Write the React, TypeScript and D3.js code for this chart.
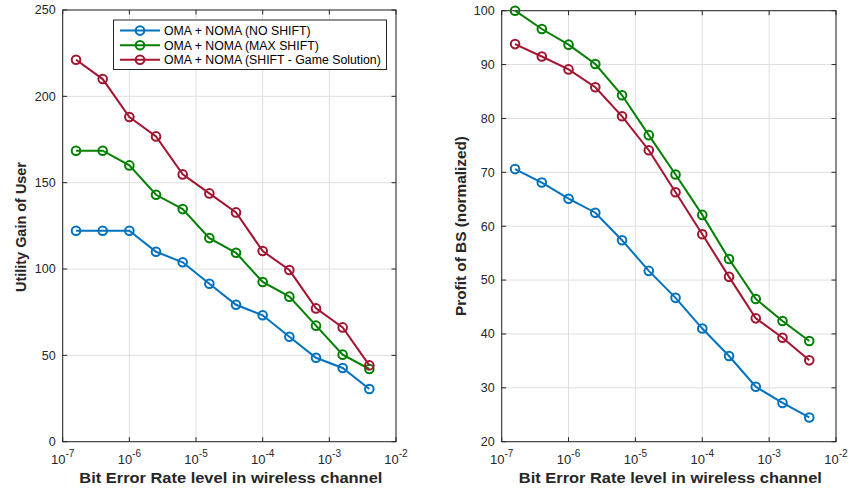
import React from "react";
import * as d3 from "d3";

const berExponents = [-6.8, -6.4, -6.0, -5.6, -5.2, -4.8, -4.4, -4.0, -3.6, -3.2, -2.8, -2.4];
const berLevels = berExponents.map((e) => Math.pow(10, e));
const xTickExps = [-7, -6, -5, -4, -3, -2];

const seriesNames = ["OMA + NOMA (NO SHIFT)", "OMA + NOMA (MAX SHIFT)", "OMA + NOMA (SHIFT - Game Solution)"];
const seriesColors = ["#0072BD", "#008000", "#A2142F"];

const utilityNoShift = [122.2, 122.2, 122.2, 110.0, 103.9, 91.5, 79.3, 73.2, 60.8, 48.6, 42.7, 30.5];
const utilityMaxShift = [168.5, 168.5, 160.0, 143.0, 134.7, 117.9, 109.4, 92.5, 84.0, 67.2, 50.4, 42.1];
const utilityGame = [221.2, 210.0, 188.0, 176.8, 154.8, 143.8, 132.8, 110.4, 99.4, 77.2, 66.2, 44.2];

const profitNoShift = [70.6, 68.1, 65.1, 62.5, 57.4, 51.7, 46.7, 41.0, 35.9, 30.2, 27.2, 24.5];
const profitMaxShift = [100.0, 96.6, 93.7, 90.1, 84.3, 76.9, 69.6, 62.1, 53.9, 46.5, 42.4, 38.7];
const profitGame = [93.8, 91.5, 89.1, 85.8, 80.4, 74.1, 66.3, 58.5, 50.6, 42.9, 39.3, 35.1];

const utilityTicks = [0, 50, 100, 150, 200, 250];
const profitTicks = [20, 30, 40, 50, 60, 70, 80, 90, 100];

const FONT = "'Liberation Sans', Arial, Helvetica, sans-serif";
const AX = "#262626";
const GRID = "#dfdfdf";

type PanelProps = {
  left: number;
  right: number;
  top: number;
  bottom: number;
  yDomain: [number, number];
  yTicks: number[];
  series: number[][];
  yLabel: string;
  yLabelX: number;
  yLabelY: number;
  yLabelLen: number;
  legend?: boolean;
};

function Panel({ left, right, top, bottom, yDomain, yTicks, series, yLabel, yLabelX, yLabelY, yLabelLen, legend }: PanelProps) {
  const x = d3.scaleLog().domain([1e-7, 1e-2]).range([left, right]);
  const y = d3.scaleLinear().domain(yDomain).range([bottom, top]);
  const line = d3
    .line<number>()
    .x((_, i) => x(berLevels[i]))
    .y((d) => y(d));
  const tl = 4.5;
  return (
    <g>
      {xTickExps.map((e) => (
        <line key={"gx" + e} x1={x(Math.pow(10, e))} x2={x(Math.pow(10, e))} y1={top} y2={bottom} stroke={GRID} strokeWidth={1} />
      ))}
      {yTicks.map((t) => (
        <line key={"gy" + t} x1={left} x2={right} y1={y(t)} y2={y(t)} stroke={GRID} strokeWidth={1} />
      ))}
      <rect x={left} y={top} width={right - left} height={bottom - top} fill="none" stroke={AX} strokeWidth={1} />
      {xTickExps.map((e) => {
        const px = x(Math.pow(10, e));
        return (
          <g key={"tx" + e}>
            <line x1={px} x2={px} y1={bottom} y2={bottom - tl} stroke={AX} />
            <line x1={px} x2={px} y1={top} y2={top + tl} stroke={AX} />
            <text x={px} y={463.5} textAnchor="middle" fontFamily={FONT} fontSize={13} fill={AX}>
              10
              <tspan dy={-6.5} fontSize={10}>{String(e)}</tspan>
            </text>
          </g>
        );
      })}
      {yTicks.map((t) => (
        <g key={"ty" + t}>
          <line x1={left} x2={left + tl} y1={y(t)} y2={y(t)} stroke={AX} />
          <line x1={right} x2={right - tl} y1={y(t)} y2={y(t)} stroke={AX} />
          <text x={left - 7} y={y(t) + 4.4} textAnchor="end" fontFamily={FONT} fontSize={12.5} fill={AX}>
            {t}
          </text>
        </g>
      ))}
      {series.map((s, si) => (
        <g key={"s" + si}>
          <path d={line(s) || ""} fill="none" stroke={seriesColors[si]} strokeWidth={2} />
          {s.map((v, i) => (
            <circle key={i} cx={x(berLevels[i])} cy={y(v)} r={4.3} fill="none" stroke={seriesColors[si]} strokeWidth={2} />
          ))}
        </g>
      ))}
      <text
        x={(left + right) / 2 + 1.5}
        y={482.7}
        textAnchor="middle"
        fontFamily={FONT}
        fontSize={14}
        fontWeight="bold"
        fill={AX}
        textLength={303}
        lengthAdjust="spacingAndGlyphs"
      >
        Bit Error Rate level in wireless channel
      </text>
      <text
        transform={`translate(${yLabelX},${yLabelY}) rotate(-90)`}
        textAnchor="middle"
        fontFamily={FONT}
        fontSize={14}
        fontWeight="bold"
        fill={AX}
        textLength={yLabelLen}
        lengthAdjust="spacingAndGlyphs"
      >
        {yLabel}
      </text>
      {legend && (
        <g>
          <rect x={113.5} y={20} width={273} height={49.5} fill="#ffffff" stroke={AX} strokeWidth={1} />
          {seriesNames.map((n, i) => {
            const ly = 30.6 + i * 14.6;
            return (
              <g key={"l" + i}>
                <line x1={120} x2={160} y1={ly} y2={ly} stroke={seriesColors[i]} strokeWidth={2} />
                <circle cx={140} cy={ly} r={4.3} fill="none" stroke={seriesColors[i]} strokeWidth={2} />
                <text x={164} y={ly + 4.3} fontFamily={FONT} fontSize={12.3} fill="#000">
                  {n}
                </text>
              </g>
            );
          })}
        </g>
      )}
    </g>
  );
}

export default function App() {
  return (
    <svg width={852} height={491} style={{ position: "absolute", left: 0, top: 0, background: "#fff" }}>
      <rect x={0} y={0} width={852} height={491} fill="#fff" />
      <Panel
        left={62.7}
        right={396}
        top={10}
        bottom={441.7}
        yDomain={[0, 250]}
        yTicks={utilityTicks}
        series={[utilityNoShift, utilityMaxShift, utilityGame]}
        yLabel="Utility Gain of User"
        yLabelX={26}
        yLabelY={227}
        yLabelLen={130}
        legend
      />
      <Panel
        left={501.7}
        right={836}
        top={10.7}
        bottom={441.7}
        yDomain={[20, 100]}
        yTicks={profitTicks}
        series={[profitNoShift, profitMaxShift, profitGame]}
        yLabel="Profit of BS (normalized)"
        yLabelX={466}
        yLabelY={226}
        yLabelLen={180}
      />
    </svg>
  );
}
